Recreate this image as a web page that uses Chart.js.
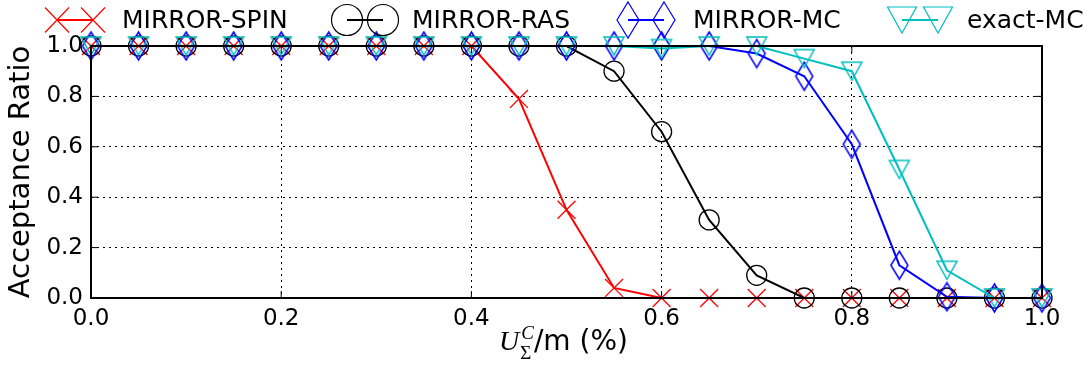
<!DOCTYPE html>
<html><head><meta charset="utf-8">
<script src="https://cdn.jsdelivr.net/npm/chart.js@4"></script>
<style>html,body{margin:0;padding:0;background:#fff}#wrap{width:1087px;height:365px;position:relative}</style>
</head><body><div id="wrap"><canvas id="c" width="1087" height="365"></canvas></div>
<script>
// ---- data ----
const xValues = [0, 0.05, 0.1, 0.15, 0.2, 0.25, 0.3, 0.35, 0.4, 0.45, 0.5, 0.55, 0.6, 0.65, 0.7, 0.75, 0.8, 0.85, 0.9, 0.95, 1.0];
const seriesNames = ['MIRROR-SPIN', 'MIRROR-RAS', 'MIRROR-MC', 'exact-MC'];
const spinValues  = [1, 1, 1, 1, 1, 1, 1, 1, 1, 0.79, 0.35, 0.04, 0, 0, 0, 0, 0, 0, 0, 0, 0];
const rasValues   = [1, 1, 1, 1, 1, 1, 1, 1, 1, 1, 1, 0.90, 0.66, 0.31, 0.09, 0, 0, 0, 0, 0, 0];
const mcValues    = [1, 1, 1, 1, 1, 1, 1, 1, 1, 1, 1, 1, 1, 1, 0.97, 0.88, 0.61, 0.13, 0.005, 0, 0];
const exactValues = [1, 1, 1, 1, 1, 1, 1, 1, 1, 1, 1, 1, 0.99, 1, 1, 0.95, 0.90, 0.51, 0.11, 0, 0];
const xTicks = [0, 0.2, 0.4, 0.6, 0.8, 1.0];
const yTicks = [0, 0.2, 0.4, 0.6, 0.8, 1.0];
const yTitle = 'Acceptance Ratio';

// ---- styles ----
const colors = ['#ff0000', '#000000', '#0000ff', '#00bfbf'];
const markerTypes = ['x', 'o', 'd', 'v'];
const legendSizes = { x: [24, 25], o: [31, 31], d: [22, 36], v: [29, 26] };

function markerPath(c, type, cx, cy, w, h) {
  c.beginPath();
  if (type === 'x') {
    c.moveTo(cx - w / 2, cy - h / 2); c.lineTo(cx + w / 2, cy + h / 2);
    c.moveTo(cx + w / 2, cy - h / 2); c.lineTo(cx - w / 2, cy + h / 2);
  } else if (type === 'o') {
    c.ellipse(cx, cy, w / 2, h / 2, 0, 0, Math.PI * 2);
  } else if (type === 'd') {
    c.moveTo(cx, cy - h / 2); c.lineTo(cx + w / 2, cy); c.lineTo(cx, cy + h / 2); c.lineTo(cx - w / 2, cy); c.closePath();
  } else if (type === 'v') {
    c.moveTo(cx - w / 2, cy - h / 2); c.lineTo(cx + w / 2, cy - h / 2); c.lineTo(cx, cy + h / 2); c.closePath();
  }
}

function makeMarker(type, color, w, h, lw) {
  const pad = 2;
  const cv = document.createElement('canvas');
  cv.width = Math.ceil(w + 2 * pad);
  cv.height = Math.ceil(h + 2 * pad);
  const c = cv.getContext('2d');
  c.strokeStyle = color; c.lineWidth = lw;
  markerPath(c, type, cv.width / 2, cv.height / 2, w, h);
  c.stroke();
  return cv;
}

const pointStyles = [
  { pointStyle: 'crossRot', pointRadius: 12.7 },
  { pointStyle: 'circle', pointRadius: 10 },
  { pointStyle: makeMarker('d', colors[2], 17, 28, 1.5), pointRadius: 10 },
  { pointStyle: makeMarker('v', colors[3], 20, 18, 1.5), pointRadius: 10 }
];

const seriesValues = [spinValues, rasValues, mcValues, exactValues];
const datasets = seriesNames.map((name, i) => Object.assign({
  label: name,
  data: xValues.map((x, j) => ({ x: x, y: seriesValues[i][j] })),
  borderColor: colors[i],
  backgroundColor: 'rgba(0,0,0,0)',
  pointBorderColor: colors[i],
  pointBackgroundColor: 'rgba(0,0,0,0)',
  borderWidth: 2,
  pointBorderWidth: 1.3,
  tension: 0,
  clip: false,
  order: 4 - i
}, pointStyles[i], { pointHoverRadius: pointStyles[i].pointRadius }));

const frameTicks = {
  id: 'frameTicks',
  afterDatasetsDraw(chart) {
    const { ctx, chartArea: a, scales } = chart;
    ctx.save();
    ctx.strokeStyle = '#000';
    ctx.lineWidth = 1;
    const tl = 7;
    ctx.beginPath();
    xTicks.forEach(v => {
      const px = scales.x.getPixelForValue(v);
      ctx.moveTo(px, a.bottom); ctx.lineTo(px, a.bottom - tl);
      ctx.moveTo(px, a.top); ctx.lineTo(px, a.top + tl);
    });
    yTicks.forEach(v => {
      const py = scales.y.getPixelForValue(v);
      ctx.moveTo(a.left, py); ctx.lineTo(a.left + tl, py);
      ctx.moveTo(a.right, py); ctx.lineTo(a.right - tl, py);
    });
    ctx.stroke();
    ctx.lineWidth = 2;
    ctx.strokeRect(a.left, a.top, a.right - a.left, a.bottom - a.top);
    ctx.restore();
  }
};

const legendAndLabel = {
  id: 'legendAndLabel',
  afterDraw(chart) {
    const { ctx, chartArea: a } = chart;
    ctx.save();
    // legend
    const textXs = [122, 412, 693, 967];
    const ly = 20;
    ctx.textBaseline = 'alphabetic';
    seriesNames.forEach((name, i) => {
      const tx = textXs[i];
      const m1 = tx - 65, m2 = tx - 29;
      ctx.strokeStyle = colors[i];
      ctx.lineWidth = 2;
      ctx.beginPath(); ctx.moveTo(m1, ly); ctx.lineTo(m2, ly); ctx.stroke();
      const s = legendSizes[markerTypes[i]];
      ctx.lineWidth = 1.2;
      [m1, m2].forEach(mx => { markerPath(ctx, markerTypes[i], mx, ly, s[0], s[1]); ctx.stroke(); });
      ctx.fillStyle = '#000';
      ctx.font = '25px "DejaVu Sans"';
      ctx.fillText(name, tx, 28);
    });
    // x-axis label: U_Σ^C/m (%)
    const base = 350;
    const fU = 'italic 28px "Liberation Serif"';
    const fSup = 'italic 19px "Liberation Serif"';
    const fSub = '19px "Liberation Serif"';
    const fRest = '28px "DejaVu Sans"';
    ctx.font = fU; const wU = ctx.measureText('U').width;
    ctx.font = fSup; const wC = ctx.measureText('C').width;
    ctx.font = fSub; const wS = ctx.measureText('Σ').width;
    ctx.font = fRest; const wR = ctx.measureText('/m (%)').width;
    const total = wU + Math.max(wC, wS) + 2 + wR;
    let x = (a.left + a.right) / 2 - total / 2 - 3;
    ctx.fillStyle = '#000';
    ctx.font = fU; ctx.fillText('U', x, base); x += wU + 1;
    ctx.font = fSup; ctx.fillText('C', x + 1, base - 11);
    ctx.font = fSub; ctx.fillText('Σ', x, base + 9);
    x += Math.max(wC, wS) + 1;
    ctx.font = fRest; ctx.fillText('/m (%)', x, base);
    ctx.restore();
  }
};

Chart.defaults.font.family = '"DejaVu Sans"';
Chart.defaults.color = '#000';

new Chart(document.getElementById('c'), {
  type: 'line',
  data: { datasets: datasets },
  options: {
    responsive: false,
    animation: false,
    devicePixelRatio: 1,
    layout: { padding: { top: 46, right: 45, left: 0, bottom: 0 } },
    plugins: { legend: { display: false }, tooltip: { enabled: false } },
    scales: {
      x: {
        type: 'linear', min: 0, max: 1,
        afterBuildTicks: s => { s.ticks = xTicks.map(v => ({ value: v })); },
        afterFit: s => { s.height = 67; },
        ticks: { font: { size: 23 }, padding: 7, maxRotation: 0, autoSkip: false, callback: v => Number(v).toFixed(1) },
        grid: { color: '#000', lineWidth: 1, drawTicks: false },
        border: { display: false, dash: [2, 4] }
      },
      y: {
        type: 'linear', min: 0, max: 1,
        afterBuildTicks: s => { s.ticks = yTicks.map(v => ({ value: v })); },
        afterFit: s => { s.width = 91; },
        ticks: { font: { size: 23 }, padding: 8, autoSkip: false, callback: v => Number(v).toFixed(1) },
        grid: { color: '#000', lineWidth: 1, drawTicks: false },
        border: { display: false, dash: [2, 4] },
        title: { display: true, text: yTitle, font: { size: 29 }, color: '#000', padding: { top: 4, bottom: 0 } }
      }
    }
  },
  plugins: [frameTicks, legendAndLabel]
});
</script>
</body></html>
